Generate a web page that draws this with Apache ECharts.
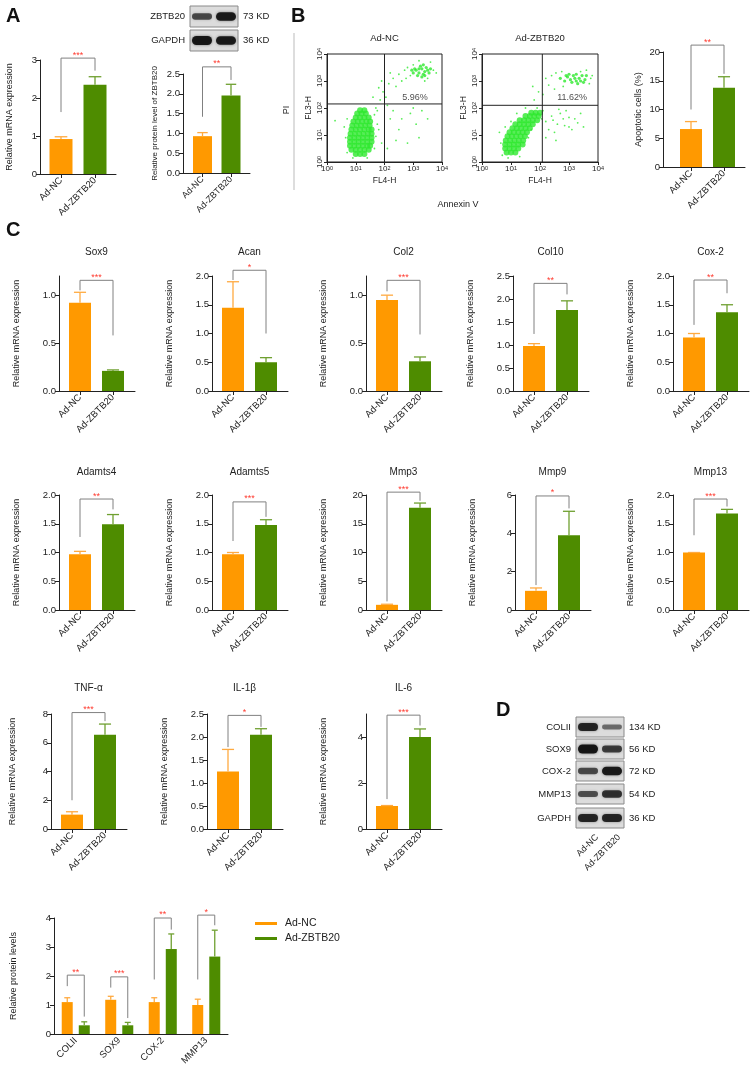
<!DOCTYPE html>
<html><head><meta charset="utf-8">
<script src="https://cdn.jsdelivr.net/npm/echarts@6/dist/echarts.min.js"></script>
<style>html,body{margin:0;padding:0;background:#fff}#c{width:754px;height:1071px}</style>
</head><body><div id="c"></div>
<script>
// ================= DATA =================
const groups = ['Ad-NC', 'Ad-ZBTB20'];

// Panel A
const aMrnaMean = [0.92, 2.35];
const aMrnaCap = [0.98, 2.56];
const aMrnaBracket = [1.63, 3.05, 2.72];
const aMrnaStars = '***';
const aProtMean = [0.93, 1.96];
const aProtCap = [1.02, 2.24];
const aProtBracket = [1.42, 2.68, 2.35];
const aProtStars = '**';
const aBlotProteins = ['ZBTB20', 'GAPDH'];
const aBlotSizes = ['73 KD', '36 KD'];
const aBlotBands = [[0.55, 0.95], [1.0, 0.95]];

// Panel B
const apoMean = [6.6, 13.8];
const apoCap = [7.9, 15.7];
const apoBracket = [10.0, 21.2, 16.2];
const apoStars = '**';
const flowTitles = ['Ad-NC', 'Ad-ZBTB20'];
const flowPercents = ['5.96%', '11.62%'];
const flowPercentPos = [[3.06, 2.37], [3.11, 2.37]];
const flowGates = [[2.0, 2.15], [2.08, 2.1]];
// points as [log10 FL4-H, log10 FL3-H]
const ncMain = [
  [1.0,0.3],[1.15,0.3],[1.3,0.3],
  [0.85,0.45],[1.0,0.45],[1.15,0.45],[1.3,0.45],[1.45,0.45],
  [0.8,0.6],[0.95,0.6],[1.1,0.6],[1.25,0.6],[1.4,0.6],[1.5,0.6],
  [0.8,0.75],[0.95,0.75],[1.1,0.75],[1.25,0.75],[1.4,0.75],[1.55,0.75],
  [0.8,0.9],[0.95,0.9],[1.1,0.9],[1.25,0.9],[1.4,0.9],[1.55,0.9],
  [0.82,1.05],[0.97,1.05],[1.12,1.05],[1.27,1.05],[1.42,1.05],[1.55,1.05],
  [0.85,1.2],[1.0,1.2],[1.15,1.2],[1.3,1.2],[1.45,1.2],[1.55,1.2],
  [0.88,1.35],[1.03,1.35],[1.18,1.35],[1.33,1.35],[1.48,1.35],
  [0.92,1.5],[1.07,1.5],[1.22,1.5],[1.37,1.5],[1.5,1.5],
  [1.0,1.65],[1.15,1.65],[1.3,1.65],[1.45,1.65],
  [1.05,1.8],[1.2,1.8],[1.35,1.8],
  [1.15,1.92],[1.3,1.92]
];
const ncUpper = [
  [3.0,3.3],[3.1,3.4],[3.2,3.3],[3.3,3.45],[3.4,3.35],[3.5,3.4],[3.15,3.2],[3.35,3.25],[3.45,3.5],
  [3.25,3.55],[3.05,3.45],[3.55,3.3],[3.3,3.15],[3.2,3.45],[3.4,3.2],[2.95,3.4],[3.6,3.45],[3.35,3.6]
];
const ncSparse = [
  [0.65,0.9],[0.6,1.3],[0.7,0.35],[1.65,0.5],[1.7,0.95],[1.75,1.4],[1.65,1.75],[0.7,1.6],[1.8,1.2],
  [1.9,0.7],[0.9,0.15],[1.4,0.15],[0.28,1.53],
  [1.7,2.0],[1.85,2.3],[1.95,2.6],[1.8,2.75],[2.05,2.4],[2.15,2.9],[2.3,3.1],[2.5,3.25],[2.4,2.8],
  [2.6,3.0],[2.2,3.3],[1.6,2.4],[1.9,3.0],[2.7,3.4],[2.1,2.1],[1.75,1.9],
  [2.2,1.6],[2.5,1.2],[2.9,1.8],[3.1,1.4],[2.4,0.8],[2.8,0.7],[3.3,1.9],[2.6,1.6],[3.0,2.0],[2.3,1.9],
  [3.5,1.6],[2.1,0.5],[3.2,0.9],
  [2.8,3.5],[3.7,3.4],[3.6,3.7],[2.9,3.2],[3.5,3.1],[3.0,3.6],[3.8,3.3],[3.4,3.0],[3.2,3.75],[2.75,3.1]
];
const zbMain = [
  [0.85,0.35],[1.0,0.35],[1.15,0.35],
  [0.8,0.5],[0.95,0.5],[1.1,0.5],[1.25,0.5],
  [0.8,0.65],[0.95,0.65],[1.1,0.65],[1.25,0.65],[1.4,0.65],
  [0.82,0.8],[0.97,0.8],[1.12,0.8],[1.27,0.8],[1.42,0.8],
  [0.88,0.95],[1.03,0.95],[1.18,0.95],[1.33,0.95],[1.48,0.95],
  [0.95,1.1],[1.1,1.1],[1.25,1.1],[1.4,1.1],[1.55,1.1],
  [1.05,1.25],[1.2,1.25],[1.35,1.25],[1.5,1.25],[1.65,1.25],
  [1.15,1.4],[1.3,1.4],[1.45,1.4],[1.6,1.4],[1.75,1.4],
  [1.3,1.55],[1.45,1.55],[1.6,1.55],[1.75,1.55],[1.9,1.55],
  [1.5,1.7],[1.65,1.7],[1.8,1.7],[1.95,1.7],
  [1.7,1.82],[1.85,1.82],[2.0,1.82]
];
const zbUpper = [
  [2.7,3.1],[2.85,3.0],[2.95,3.15],[3.05,3.05],[3.15,3.2],[3.25,3.0],[3.35,3.1],[3.45,3.2],[3.55,3.05],
  [3.1,2.95],[3.3,2.9],[3.0,3.25],[3.2,3.1],[3.4,3.0],[3.6,3.2],[2.9,3.2],[3.5,2.95],[3.25,3.25]
];
const zbSparse = [
  [0.65,0.7],[0.6,1.1],[0.7,0.25],[1.3,0.2],[1.6,0.9],[1.7,1.2],[2.1,1.9],[2.05,1.6],[0.8,1.3],
  [1.0,1.5],[1.2,1.8],[1.5,2.0],[0.9,0.15],
  [1.8,2.3],[1.95,2.6],[1.75,2.8],[2.1,2.5],[2.3,2.85],[2.4,3.2],[2.2,3.1],[2.5,2.7],[1.9,2.0],
  [2.2,1.5],[2.4,1.7],[2.6,1.4],[2.8,1.6],[3.0,1.3],[2.5,1.1],[2.9,1.9],[3.2,1.6],[3.4,1.8],[2.3,1.2],
  [2.7,1.8],[3.1,1.2],[2.45,1.55],[2.85,1.35],[3.3,1.45],[2.65,1.95],[3.5,1.3],[2.2,0.9],[2.55,0.8],[3.0,1.65],
  [2.55,3.3],[3.75,3.1],[3.7,2.9],[2.8,2.8],[3.6,3.4],[3.4,3.35],[2.75,3.35],[3.8,3.2]
];

// Panel C
const geneNames = ['Sox9','Acan','Col2','Col10','Cox-2','Adamts4','Adamts5','Mmp3','Mmp9','Mmp13','TNF-α','IL-1β','IL-6'];
const geneMeans = [[0.92,0.21],[1.45,0.50],[0.95,0.31],[0.98,1.76],[0.93,1.37],[0.97,1.49],[0.97,1.48],[0.9,17.8],[1.0,3.9],[1.0,1.68],[1.0,6.55],[1.25,2.05],[1.0,4.0]];
const geneCaps = [[1.03,0.22],[1.9,0.58],[1.0,0.355],[1.03,1.96],[1.0,1.5],[1.02,1.66],[1.0,1.57],[1.0,18.6],[1.15,5.15],[1.0,1.75],[1.2,7.3],[1.73,2.18],[1.02,4.35]];
const geneBrackets = [[1.05,1.155,0.58],[1.93,2.1,1.0],[1.04,1.155,0.59],[1.24,2.34,2.1],[1.15,1.93,1.7],[1.27,1.93,1.75],[1.2,1.88,1.62],[1.5,20.5,19.0],[1.3,5.95,5.3],[1.3,1.93,1.8],[2.0,8.1,7.5],[1.78,2.47,2.22],[1.3,4.95,4.5]];
const geneStars = ['***','*','***','**','**','**','***','***','*','***','***','*','***'];
const geneAxisMax = [1.2,2.0,1.2,2.5,2.0,2.0,2.0,20,6,2.0,8,2.5,5];
const geneTickStep = [0.5,0.5,0.5,0.5,0.5,0.5,0.5,5,2,0.5,2,0.5,2];
const geneLabelMax = [1.0,2.0,1.0,2.5,2.0,2.0,2.0,20,6,2.0,8,2.5,4];

// Panel D
const blotProteins = ['COLII','SOX9','COX-2','MMP13','GAPDH'];
const blotSizes = ['134 KD','56 KD','72 KD','54 KD','36 KD'];
const blotBands = [[0.85,0.3],[1.0,0.65],[0.55,0.95],[0.5,0.75],[0.85,0.85]];
const protCategories = ['COLII','SOX9','COX-2','MMP13'];
const protNcMean = [1.1, 1.18, 1.1, 1.0];
const protNcCap = [1.25, 1.3, 1.25, 1.2];
const protZbMean = [0.3, 0.3, 2.93, 2.67];
const protZbCap = [0.42, 0.4, 3.45, 3.58];
const protBrackets = [[1.65,2.03,0.6],[1.6,1.97,0.55],[1.88,4.0,3.6],[1.88,4.1,3.75]];
const protStars = ['**','***','**','*'];

// ================= STYLE / LAYOUT =================
const FONT = '"Liberation Sans", Arial, Helvetica, sans-serif';
const ORANGE = '#FF9900', GREEN = '#4E8C00';
const ORANGE_E = '#FFAA40', GREEN_E = '#6FA030';
const INK = '#222', BRK = '#808080', STAR = '#FF3B30';

const option = {
  animation: false,
  textStyle: { fontFamily: FONT },
  grid: [], xAxis: [], yAxis: [], series: [], graphic: [],
};

function fmtTick(step) { return v => step < 1 ? v.toFixed(1) : String(Math.round(v)); }
function tickList(step, maxLab) { const a = []; for (let v = 0; v <= maxLab + 1e-9; v += step) a.push(+v.toFixed(4)); return a; }

function errRender(capW, colors, offsets) {
  return function (params, api) {
    const x = api.value(0), m = api.value(1), c = api.value(2), k = api.value(3);
    const p0 = api.coord([x, m]), p1 = api.coord([x, c]);
    const dx = offsets ? offsets[k] : 0;
    const col = colors[k];
    return { type: 'group', children: [
      { type: 'line', shape: { x1: p0[0] + dx, y1: p0[1], x2: p1[0] + dx, y2: p1[1] }, style: { stroke: col, lineWidth: 1.3 } },
      { type: 'line', shape: { x1: p1[0] + dx - capW / 2, y1: p1[1], x2: p1[0] + dx + capW / 2, y2: p1[1] }, style: { stroke: col, lineWidth: 1.3 } }
    ] };
  };
}

function addBarPanel(p) {
  const gi = option.grid.length;
  option.grid.push({ left: p.x, top: p.top, width: p.w, height: p.h });
  const xmin = -p.a / p.s, xmax = (p.w - p.a) / p.s;
  const ticks = tickList(p.step, p.labMax);
  option.xAxis.push({ type: 'value', gridIndex: gi, min: xmin, max: xmax, splitLine: { show: false },
    axisLine: { lineStyle: { color: INK, width: 1 } },
    axisTick: { customValues: [0, 1], length: 4, lineStyle: { color: INK } },
    axisLabel: { customValues: [0, 1], formatter: v => groups[Math.round(v)], rotate: 45, fontSize: p.xf || 9.5, color: INK, margin: 5 } });
  option.yAxis.push({ type: 'value', gridIndex: gi, min: 0, max: p.max, splitLine: { show: false },
    axisLine: { show: true, onZero: false, lineStyle: { color: INK, width: 1 } },
    axisTick: { customValues: ticks, length: 4, lineStyle: { color: INK } },
    axisLabel: { customValues: ticks, formatter: fmtTick(p.step), fontSize: 9.5, color: INK, margin: 3 },
    name: p.yName, nameLocation: 'middle', nameGap: p.nameGap, nameTextStyle: { fontSize: p.nf || 9, color: INK } });
  option.series.push({ type: 'bar', xAxisIndex: gi, yAxisIndex: gi, barWidth: p.barW,
    data: [{ value: [0, p.means[0]], itemStyle: { color: ORANGE } }, { value: [1, p.means[1]], itemStyle: { color: GREEN } }] });
  option.series.push({ type: 'custom', xAxisIndex: gi, yAxisIndex: gi, z: 3,
    renderItem: errRender(p.barW * 0.55, [ORANGE_E, GREEN_E]),
    data: [[0, p.means[0], p.caps[0], 0], [1, p.means[1], p.caps[1], 1]] });
  option.series.push({ type: 'custom', xAxisIndex: gi, yAxisIndex: gi, z: 4, clip: false,
    renderItem: function (params, api) {
      const lb = api.value(2), top = api.value(3), rb = api.value(4);
      const a = api.coord([0, lb]), t0 = api.coord([0, top]), t1 = api.coord([1, top]), b = api.coord([1, rb]);
      return { type: 'group', children: [
        { type: 'polyline', shape: { points: [a, t0, t1, b] }, style: { stroke: BRK, lineWidth: 1, fill: null } },
        { type: 'text', x: (t0[0] + t1[0]) / 2, y: t0[1] - 3, style: { text: p.stars, fill: STAR, fontSize: 9, align: 'center', verticalAlign: 'middle', fontFamily: FONT } }
      ] };
    },
    data: [[0, 1, p.bracket[0], p.bracket[1], p.bracket[2]]] });
  if (p.title) {
    option.graphic.push({ type: 'text', x: p.x + p.a + p.s / 2, y: p.titleY,
      style: { text: p.title, fontSize: 10, fill: INK, align: 'center', verticalAlign: 'middle', fontFamily: FONT } });
  }
}

// ---- Panel A bar charts
addBarPanel({ x: 40, top: 60, h: 114, w: 76, a: 21, s: 34, barW: 23, max: 3, step: 1, labMax: 3,
  means: aMrnaMean, caps: aMrnaCap, bracket: aMrnaBracket, stars: aMrnaStars, yName: 'Relative mRNA expression', nameGap: 26 });
addBarPanel({ x: 183, top: 74, h: 99, w: 67, a: 19.5, s: 28.5, barW: 19, max: 2.5, step: 0.5, labMax: 2.5,
  means: aProtMean, caps: aProtCap, bracket: aProtBracket, stars: aProtStars, yName: 'Relative protein level of ZBTB20', nameGap: 24, nf: 8, xf: 9 });
// ---- Panel B bar chart
addBarPanel({ x: 663, top: 52, h: 115, w: 82, a: 28, s: 33, barW: 22, max: 20, step: 5, labMax: 20,
  means: apoMean, caps: apoCap, bracket: apoBracket, stars: apoStars, yName: 'Apoptotic cells (%)', nameGap: 20, nf: 9 });

// ---- Panel C
const colX = [[59, 212, 366, 513, 673], [59, 212, 366, 515, 673], [51, 207, 366]];
const rowTop = [276, 495, 714];
const rowTitleY = [252, 472, 688];
let gidx = 0;
for (let r = 0; r < 3; r++) {
  for (let c = 0; c < colX[r].length; c++) {
    const g = gidx++;
    addBarPanel({ x: colX[r][c], top: rowTop[r], h: 115, w: 76, a: 21, s: 33, barW: 22,
      max: geneAxisMax[g], step: geneTickStep[g], labMax: geneLabelMax[g],
      means: geneMeans[g], caps: geneCaps[g], bracket: geneBrackets[g], stars: geneStars[g],
      yName: 'Relative mRNA expression', nameGap: r === 2 && c === 0 ? 34 : 38, title: geneNames[g], titleY: rowTitleY[r] });
  }
}

// ---- Bottom grouped chart
(function () {
  const gi = option.grid.length;
  option.grid.push({ left: 54, top: 918, width: 174, height: 116 });
  option.xAxis.push({ type: 'category', gridIndex: gi, data: protCategories,
    axisLine: { lineStyle: { color: INK } }, axisTick: { alignWithLabel: true, length: 4, lineStyle: { color: INK } },
    axisLabel: { rotate: 45, fontSize: 9.5, color: INK, margin: 5 } });
  option.yAxis.push({ type: 'value', gridIndex: gi, min: 0, max: 4, interval: 1, splitLine: { show: false },
    axisLine: { show: true, lineStyle: { color: INK } }, axisTick: { show: true, length: 4, lineStyle: { color: INK } },
    axisLabel: { fontSize: 9.5, color: INK, margin: 3 },
    name: 'Relative protein levels', nameLocation: 'middle', nameGap: 36, nameTextStyle: { fontSize: 9, color: INK } });
  option.series.push({ name: 'Ad-NC', type: 'bar', xAxisIndex: gi, yAxisIndex: gi, barWidth: 11, barGap: '55%', itemStyle: { color: ORANGE }, data: protNcMean });
  option.series.push({ name: 'Ad-ZBTB20', type: 'bar', xAxisIndex: gi, yAxisIndex: gi, barWidth: 11, barGap: '55%', itemStyle: { color: GREEN }, data: protZbMean });
  const errData = [];
  protCategories.forEach((c, i) => { errData.push([i, protNcMean[i], protNcCap[i], 0]); errData.push([i, protZbMean[i], protZbCap[i], 1]); });
  option.series.push({ type: 'custom', xAxisIndex: gi, yAxisIndex: gi, z: 3, renderItem: errRender(6, [ORANGE_E, GREEN_E], [-8.5, 8.5]), data: errData });
  option.series.push({ type: 'custom', xAxisIndex: gi, yAxisIndex: gi, z: 4, clip: false,
    renderItem: function (params, api) {
      const i = api.value(0), lb = api.value(1), top = api.value(2), rb = api.value(3);
      const a = api.coord([i, lb]), t = api.coord([i, top]), b = api.coord([i, rb]);
      const x0 = a[0] - 8.5, x1 = a[0] + 8.5;
      return { type: 'group', children: [
        { type: 'polyline', shape: { points: [[x0, a[1]], [x0, t[1]], [x1, t[1]], [x1, b[1]]] }, style: { stroke: BRK, lineWidth: 1, fill: null } },
        { type: 'text', x: a[0], y: t[1] - 3, style: { text: protStars[params.dataIndex], fill: STAR, fontSize: 9, align: 'center', verticalAlign: 'middle', fontFamily: FONT } }
      ] };
    },
    data: protBrackets.map((b, i) => [i, b[0], b[1], b[2]]) });
  option.legend = { data: [{ name: 'Ad-NC', icon: 'rect' }, { name: 'Ad-ZBTB20', icon: 'rect' }], left: 250, top: 913, orient: 'vertical',
    itemWidth: 22, itemHeight: 3, itemGap: 4, textStyle: { fontSize: 10.5, color: INK, padding: [0, 0, 0, 3] } };
})();

// ---- Flow cytometry plots
function addFlow(k, left, width, main, upper, sparse) {
  const gi = option.grid.length;
  option.grid.push({ left: left, top: 54, width: width, height: 108, show: true, borderColor: INK, borderWidth: 1 });
  const rich = { b: { fontSize: 8, color: INK, verticalAlign: 'bottom' }, s: { fontSize: 5.5, color: INK, verticalAlign: 'top' } };
  const fmt = v => '{b|10}{s|' + Math.round(v) + '}';
  option.xAxis.push({ type: 'value', gridIndex: gi, min: 0, max: 4, interval: 1, splitLine: { show: false },
    axisLine: { lineStyle: { color: INK } }, axisTick: { length: 3, lineStyle: { color: INK } },
    axisLabel: { formatter: fmt, rich: rich, margin: 3, color: INK },
    name: 'FL4-H', nameLocation: 'middle', nameGap: 14, nameTextStyle: { fontSize: 8.5, color: INK } });
  option.yAxis.push({ type: 'value', gridIndex: gi, min: 0, max: 4, interval: 1, splitLine: { show: false },
    axisLine: { lineStyle: { color: INK } }, axisTick: { length: 3, lineStyle: { color: INK } },
    axisLabel: { formatter: fmt, rich: rich, rotate: 90, margin: 3, color: INK },
    name: 'FL3-H', nameLocation: 'middle', nameGap: 14, nameTextStyle: { fontSize: 8.5, color: INK } });
  const col = '#2EE82E';
  option.series.push({ type: 'scatter', xAxisIndex: gi, yAxisIndex: gi, symbolSize: 6, itemStyle: { color: col }, data: main });
  option.series.push({ type: 'scatter', xAxisIndex: gi, yAxisIndex: gi, symbolSize: 3.2, itemStyle: { color: col }, data: upper });
  option.series.push({ type: 'scatter', xAxisIndex: gi, yAxisIndex: gi, symbolSize: 1.8, itemStyle: { color: col }, data: sparse });
  option.series.push({ type: 'custom', xAxisIndex: gi, yAxisIndex: gi, z: 5,
    renderItem: function (params, api) {
      const gx = api.value(0), gy = api.value(1);
      const v0 = api.coord([gx, 0]), v1 = api.coord([gx, 4]), h0 = api.coord([0, gy]), h1 = api.coord([4, gy]);
      return { type: 'group', children: [
        { type: 'line', shape: { x1: v0[0], y1: v0[1], x2: v1[0], y2: v1[1] }, style: { stroke: INK, lineWidth: 1 } },
        { type: 'line', shape: { x1: h0[0], y1: h0[1], x2: h1[0], y2: h1[1] }, style: { stroke: INK, lineWidth: 1 } }
      ] };
    }, data: [flowGates[k]] });
  option.series.push({ type: 'scatter', xAxisIndex: gi, yAxisIndex: gi, symbolSize: 0, z: 6,
    label: { show: true, position: 'inside', formatter: flowPercents[k], fontSize: 9, color: INK },
    data: [flowPercentPos[k]] });
  option.graphic.push({ type: 'text', x: left + width / 2, y: 38,
    style: { text: flowTitles[k], fontSize: 9.5, fill: INK, align: 'center', verticalAlign: 'middle', fontFamily: FONT } });
}
addFlow(0, 327, 115, ncMain, ncUpper, ncSparse);
addFlow(1, 482, 116, zbMain, zbUpper, zbSparse);

// ---- Blots
function addBlot(labels, sizes, bands, boxX, boxW, rowsY, rowH, lanes) {
  labels.forEach((lab, i) => {
    const y = rowsY[i];
    option.graphic.push({ type: 'rect', shape: { x: boxX, y: y, width: boxW, height: rowH },
      style: { fill: '#dcdcdc', stroke: '#8a8a8a', lineWidth: 1 } });
    bands[i].forEach((I, j) => {
      const bh = 3 + 6 * I;
      option.graphic.push({ type: 'rect', shape: { x: boxX + lanes[j] - 10, y: y + rowH / 2 - bh / 2, width: 20, height: bh, r: bh / 2 },
        style: { fill: 'rgba(15,15,15,' + (0.35 + 0.6 * I).toFixed(2) + ')', shadowBlur: 3, shadowColor: 'rgba(0,0,0,' + (0.5 * I).toFixed(2) + ')' } });
    });
    option.graphic.push({ type: 'text', x: boxX - 5, y: y + rowH / 2,
      style: { text: lab, fontSize: 9.5, fill: INK, align: 'right', verticalAlign: 'middle', fontFamily: FONT } });
    option.graphic.push({ type: 'text', x: boxX + boxW + 5, y: y + rowH / 2,
      style: { text: sizes[i], fontSize: 9.5, fill: INK, align: 'left', verticalAlign: 'middle', fontFamily: FONT } });
  });
}
addBlot(aBlotProteins, aBlotSizes, aBlotBands, 190, 48, [6, 30], 21, [12, 36]);
addBlot(blotProteins, blotSizes, blotBands, 576, 48, [717, 739, 761, 784, 808], 20, [12, 36]);
groups.forEach((g, j) => {
  option.graphic.push({ type: 'text', x: 597 + 22 * j, y: 836, rotation: Math.PI / 4,
    style: { text: g, fontSize: 9, fill: INK, align: 'right', verticalAlign: 'middle', fontFamily: FONT } });
});

// ---- Panel letters and misc text
[['A', 6, 6], ['B', 291, 6], ['C', 6, 220], ['D', 496, 700]].forEach(t => {
  option.graphic.push({ type: 'text', x: t[1], y: t[2], style: { text: t[0], fontSize: 20, fontWeight: 'bold', fill: '#111', fontFamily: FONT } });
});
option.graphic.push({ type: 'text', x: 287, y: 110, rotation: Math.PI / 2,
  style: { text: 'PI', fontSize: 9, fill: INK, align: 'center', verticalAlign: 'middle', fontFamily: FONT } });
option.graphic.push({ type: 'text', x: 458, y: 205,
  style: { text: 'Annexin V', fontSize: 9, fill: INK, align: 'center', verticalAlign: 'middle', fontFamily: FONT } });
option.graphic.push({ type: 'polyline', shape: { points: [[294, 33], [294, 190]] }, style: { stroke: '#bbbbbb', lineWidth: 1, fill: null } });

const chart = echarts.init(document.getElementById('c'), null, { renderer: 'canvas' });
chart.setOption(option);
</script></body></html>
